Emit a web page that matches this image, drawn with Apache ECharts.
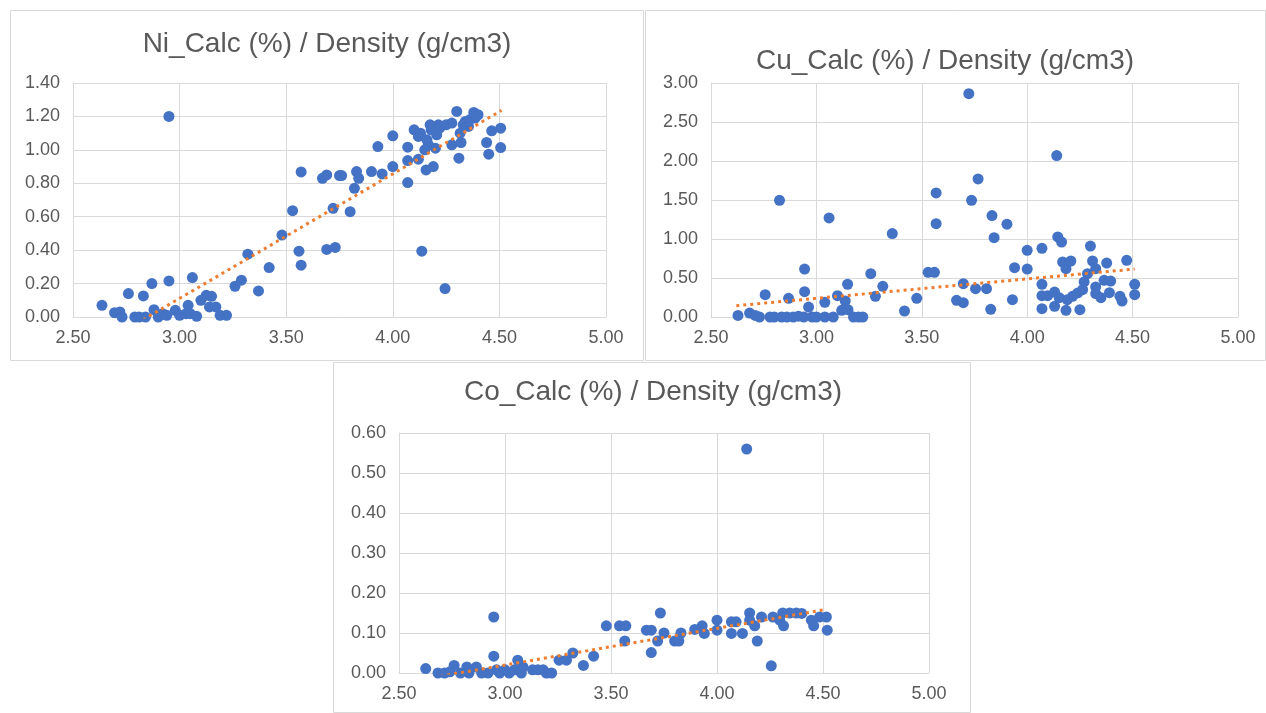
<!DOCTYPE html>
<html>
<head>
<meta charset="utf-8">
<script src="https://cdn.jsdelivr.net/npm/echarts@6/dist/echarts.min.js"></script>
<style>
html,body{margin:0;padding:0;background:#fff;}
#c{width:1266px;height:713px;}
</style>
</head>
<body>
<div id="c"></div>
<script>
// ---- Data ----
const niDensity = [2.636,2.695,2.72,2.73,2.76,2.79,2.81,2.83,2.84,2.87,2.88,2.90,2.92,2.95,2.95,2.94,2.98,3.00,3.03,3.04,3.06,3.05,3.08,3.10,3.125,3.15,3.14,3.17,3.19,3.22,3.26,3.29,3.32,3.37,3.42,3.48,3.53,3.56,3.57,3.57,3.67,3.69,3.69,3.73,3.75,3.76,3.72,3.80,3.82,3.83,3.84,3.90,3.95,3.93,4.00,4.00,4.07,4.07,4.07,4.10,4.12,4.12,4.136,4.156,4.16,4.167,4.175,4.19,4.20,4.206,4.214,4.245,4.25,4.277,4.277,4.30,4.31,4.316,4.32,4.34,4.355,4.38,4.386,4.44,4.45,4.464,4.506,4.506,4.13,4.18,4.22,4.15,4.33,4.36,4.40];
const niValue   = [0.07,0.026,0.03,0.0,0.14,0.0,0.0,0.126,0.0,0.2,0.044,0.0,0.02,1.2,0.216,0.01,0.04,0.01,0.02,0.07,0.236,0.02,0.004,0.1,0.13,0.124,0.06,0.06,0.01,0.01,0.184,0.22,0.376,0.156,0.296,0.49,0.636,0.394,0.31,0.868,0.83,0.85,0.404,0.416,0.846,0.846,0.65,0.63,0.77,0.87,0.83,0.87,0.856,1.02,1.084,0.9,1.016,0.936,0.804,1.12,1.08,0.944,0.394,0.88,1.06,1.03,1.15,0.9,1.01,1.09,1.15,0.17,1.15,1.16,1.03,1.23,0.95,1.10,1.044,1.17,1.14,1.224,1.19,1.044,0.974,1.114,1.13,1.014,1.10,1.12,1.13,1.0,1.15,1.18,1.21];

const cuDensity = [2.628,2.683,2.71,2.73,2.757,2.78,2.80,2.825,2.835,2.868,2.86,2.89,2.915,2.944,2.944,2.94,2.963,2.98,3.0,3.04,3.04,3.06,3.08,3.10,3.12,3.137,3.148,3.15,3.176,3.20,3.22,3.258,3.28,3.315,3.36,3.418,3.476,3.53,3.56,3.568,3.568,3.665,3.697,3.697,3.723,3.767,3.736,3.755,3.807,3.827,3.833,3.843,3.904,3.93,3.94,4.0,4.0,4.07,4.07,4.07,4.07,4.097,4.13,4.13,4.14,4.145,4.163,4.168,4.184,4.207,4.152,4.184,4.19,4.215,4.24,4.25,4.263,4.27,4.286,4.30,4.31,4.325,4.325,4.325,4.35,4.365,4.377,4.39,4.396,4.44,4.45,4.472,4.51,4.51];
const cuValue   = [0.02,0.05,0.02,0.0,0.286,0.0,0.0,1.496,0.0,0.24,0.0,0.0,0.01,0.615,0.325,0.0,0.128,0.0,0.0,0.188,0.0,1.27,0.0,0.273,0.085,0.205,0.42,0.094,0.0,0.0,0.0,0.556,0.265,0.393,1.07,0.077,0.24,0.573,0.573,1.59,1.197,0.214,0.184,0.427,2.863,1.77,1.496,0.363,0.363,0.098,1.30,1.017,1.19,0.222,0.632,0.855,0.615,0.88,0.419,0.273,0.107,0.273,0.32,0.137,2.07,1.026,0.96,0.705,0.62,0.718,0.248,0.085,0.222,0.265,0.308,0.094,0.35,0.449,0.556,0.91,0.718,0.62,0.385,0.30,0.248,0.47,0.692,0.312,0.46,0.265,0.205,0.726,0.419,0.286];

const coDensity = [2.626,2.684,2.715,2.74,2.76,2.79,2.82,2.83,2.865,2.89,2.92,2.947,2.947,2.96,2.975,3.0,3.02,3.045,3.06,3.077,3.085,3.13,3.155,3.18,3.195,3.22,3.255,3.29,3.32,3.37,3.418,3.478,3.54,3.57,3.565,3.667,3.69,3.69,3.733,3.72,3.75,3.80,3.82,3.83,3.895,3.93,3.94,4.0,4.0,4.068,4.068,4.09,4.12,4.14,4.154,4.154,4.178,4.19,4.21,4.256,4.264,4.296,4.31,4.314,4.343,4.374,4.40,4.445,4.456,4.484,4.516,4.52];
const coValue   = [0.011,0.0,0.0,0.003,0.019,0.0,0.015,0.0,0.015,0.0,0.0,0.14,0.042,0.008,0.0,0.008,0.0,0.008,0.032,0.0,0.015,0.008,0.008,0.008,0.0,0.0,0.032,0.032,0.05,0.019,0.042,0.118,0.118,0.118,0.08,0.107,0.107,0.051,0.15,0.08,0.1,0.08,0.08,0.1,0.109,0.118,0.099,0.132,0.107,0.128,0.099,0.128,0.099,0.56,0.15,0.132,0.118,0.08,0.14,0.018,0.14,0.132,0.15,0.118,0.15,0.15,0.149,0.132,0.118,0.14,0.14,0.107];

// trendline end points
const niTrendX = [2.63, 4.51], niTrendY = [-0.164, 1.236];
const cuTrendX = [2.62, 4.51], cuTrendY = [0.145, 0.615];
const coTrendX = [2.63, 4.516], coTrendY = [-0.014, 0.159];

const xTicks = ['2.50','3.00','3.50','4.00','4.50','5.00'];
const titles = ['Ni_Calc (%) / Density (g/cm3)','Cu_Calc (%) / Density (g/cm3)','Co_Calc (%) / Density (g/cm3)'];

// ---- Build ----
const zip = (a, b) => a.map((v, i) => [v, b[i]]);
const GRID = '#d9d9d9', TXT = '#595959', BLUE = '#4472C4', ORANGE = '#ED7D31';
const FONT = 'Liberation Sans, Arial, sans-serif';

const grids = [
  {left: 73, top: 83, width: 533, height: 234},
  {left: 711, top: 83, width: 527, height: 234},
  {left: 399, top: 433, width: 530, height: 240}
];
const yCfg = [{max: 1.4, interval: 0.2}, {max: 3.0, interval: 0.5}, {max: 0.6, interval: 0.1}];

const xAxes = grids.map((g, i) => ({
  type: 'value', gridIndex: i, min: 2.5, max: 5.0, interval: 0.5,
  axisLine: {show: true, lineStyle: {color: GRID, width: 1}},
  axisTick: {show: false},
  splitLine: {show: true, lineStyle: {color: GRID, width: 1}},
  axisLabel: {color: TXT, fontSize: 18, fontFamily: FONT, margin: 12,
    formatter: v => xTicks[Math.round((v - 2.5) / 0.5)] || v.toFixed(2)}
}));
const yAxes = grids.map((g, i) => ({
  type: 'value', gridIndex: i, min: 0, max: yCfg[i].max, interval: yCfg[i].interval,
  axisLine: {show: true, lineStyle: {color: GRID, width: 1}},
  axisTick: {show: false},
  splitLine: {show: true, lineStyle: {color: GRID, width: 1}},
  axisLabel: {color: TXT, fontSize: 18, fontFamily: FONT, margin: 13, formatter: v => v.toFixed(2)}
}));

const scatterData = [zip(niDensity, niValue), zip(cuDensity, cuValue), zip(coDensity, coValue)];
const trendData = [zip(niTrendX, niTrendY), zip(cuTrendX, cuTrendY), zip(coTrendX, coTrendY)];

const series = [];
scatterData.forEach((d, i) => {
  series.push({type: 'scatter', xAxisIndex: i, yAxisIndex: i, data: d, symbolSize: 11,
    itemStyle: {color: BLUE, opacity: 1}, z: 2, animation: false});
});
trendData.forEach((d, i) => {
  series.push({type: 'line', xAxisIndex: i, yAxisIndex: i, data: d, symbol: 'none', clip: true,
    lineStyle: {color: ORANGE, width: 3, type: [3, 4]}, z: 3, animation: false});
});

const panels = [
  {x: 10, y: 10, w: 633, h: 350},
  {x: 645, y: 10, w: 620, h: 350},
  {x: 333, y: 362, w: 637, h: 350}
];
const titlePos = [[327, 44], [945, 61], [653, 392]];

const graphic = [];
panels.forEach(p => graphic.push({type: 'rect', shape: {x: p.x + 0.5, y: p.y + 0.5, width: p.w, height: p.h},
  style: {fill: '#fff', stroke: GRID, lineWidth: 1}, z: -10, silent: true}));
titles.forEach((t, i) => graphic.push({type: 'text', x: titlePos[i][0], y: titlePos[i][1],
  style: {text: t, fill: TXT, font: '28px ' + FONT, textAlign: 'center', textVerticalAlign: 'middle'}, z: 10}));

const chart = echarts.init(document.getElementById('c'));
chart.setOption({
  animation: false,
  backgroundColor: '#fff',
  grid: grids,
  xAxis: xAxes,
  yAxis: yAxes,
  series: series,
  graphic: graphic
});
</script>
</body>
</html>
